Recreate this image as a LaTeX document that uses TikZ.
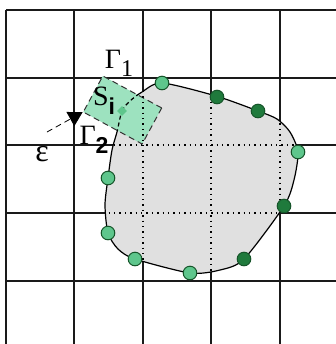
\documentclass[tikz,border=0pt]{standalone}
\usepackage{fontspec}
\setmainfont{Liberation Serif}
\setsansfont{Liberation Sans}
\usetikzlibrary{arrows.meta,shapes.geometric}
\definecolor{CellLine}{HTML}{1A1A1A}
\definecolor{BlobGray}{HTML}{E0E0E0}
\definecolor{LightDot}{HTML}{5EC68C}
\definecolor{DarkDot}{HTML}{1F7A3C}
\definecolor{PatchGreen}{HTML}{9DE2BF}
% outline of the body, in pixel units of the picture
\newcommand{\blobpath}{plot[smooth cycle, tension=0.45] coordinates {(117,132) (122,111) (130,101) (142,92) (162,83) (216,96) (258,111) (277,119) (290,132) (298,152) (294,180) (284,206) (244,259) (220,270) (190,273) (135,259) (118,249) (108,233) (105,205) (108,178) (112,150)}}
\newcommand{\subbold}[1]{\raisebox{-0.7ex}{\sffamily\bfseries\fontsize{11.5}{13}\selectfont #1}}

\begin{document}
\begin{tikzpicture}[
  x=0.5pt, y=-0.5pt,
  gridline/.style={draw=CellLine, line width=1pt},
  cellcut/.style={draw=black, line width=0.7pt, dotted},
  outline/.style={draw=black, line width=0.6pt},
  patch/.style={draw=black!80, densely dashed, line width=0.5pt, fill=PatchGreen, minimum width=33.5pt, minimum height=20.5pt, inner sep=0pt, rotate=-28.5},
  lightpt/.style={circle, draw=DarkDot!70!black, fill=LightDot, line width=0.5pt, minimum size=6.8pt, inner sep=0pt},
  darkpt/.style={lightpt, fill=DarkDot},
  centre/.style={diamond, fill=LightDot, minimum size=5pt, inner sep=0pt},
  lbl/.style={font=\fontsize{14}{16}\selectfont, inner sep=0pt},
  arrow/.style={-{Triangle[length=7pt, width=8pt]}, densely dashed, line width=0.4pt}
]
\useasboundingbox[fill=white] (0,0) rectangle (336,344);

% mesh
\draw[gridline] (6,10) -- (6,344) (74,10) -- (74,344) (143,10) -- (143,344)
  (211,10) -- (211,344) (280,10) -- (280,344);
\draw[gridline] (6,10) -- (336,10) (6,78) -- (336,78) (6,145) -- (336,145)
  (6,213) -- (336,213) (6,281) -- (336,281);

% body
\fill[BlobGray] \blobpath;
\begin{scope}
  \clip \blobpath;
  \draw[cellcut] (143,10) -- (143,344) (211,10) -- (211,344) (280,10) -- (280,344);
  \draw[cellcut] (6,145) -- (336,145) (6,213) -- (336,213);
\end{scope}
\draw[outline] \blobpath;

% patch S_i
\node[patch] (si) at (122.5,110) {};
\begin{scope}
  \clip (si.north west) -- (si.north east) -- (si.south east) -- (si.south west) -- cycle;
  \draw[outline, dash pattern=on 2pt off 1.5pt] \blobpath;
  \clip \blobpath;
  \draw[cellcut] (143,10) -- (143,344);
\end{scope}
\node[centre] (c) at (122,111) {};

% nodes on the boundary
\node[lightpt] (p1) at (162,83) {};
\node[darkpt] (p2) at (217,97) {};
\node[darkpt] (p3) at (258,111) {};
\node[lightpt] (p4) at (298,152) {};
\node[darkpt] (p5) at (284,206) {};
\node[darkpt] (p6) at (244,259) {};
\node[lightpt] (p7) at (190,273) {};
\node[lightpt] (p8) at (135,259) {};
\node[lightpt] (p9) at (108,233) {};
\node[lightpt] (p10) at (108,178) {};

% labels
\node[lbl] (g1) at (119,63) {Γ\raisebox{-0.6ex}{\fontsize{12}{14}\selectfont 1}};
\node[lbl] (g2) at (94,140) {Γ\subbold{2}};
\node[lbl] (sname) at (104,101) {S\subbold{i}};
\node[lbl, font=\fontsize{16}{18}\selectfont] (eps) at (42,154) {ε};
\coordinate (from) at (47,132);
\draw[arrow] (from) -- (si.south west);
\end{tikzpicture}
\end{document}
